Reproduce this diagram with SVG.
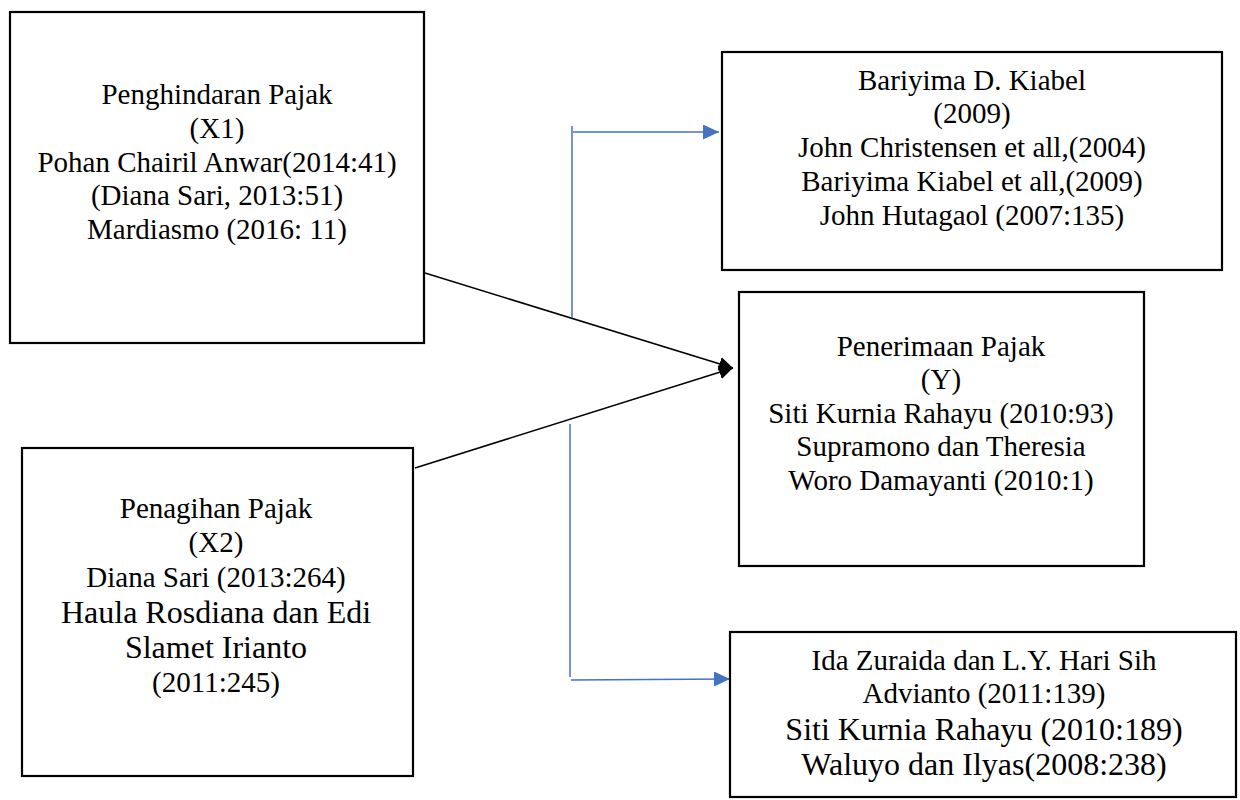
<svg xmlns="http://www.w3.org/2000/svg" width="1240" height="800" viewBox="0 0 1240 800">
<defs>
<style>
.box{fill:#fff;stroke:#000;stroke-width:2.2}
.t{font-family:"Liberation Serif","Times New Roman",serif;font-size:29px;fill:#000;text-anchor:middle}
.big{font-size:32px}
.blk{stroke:#000;stroke-width:1.6;fill:none}
.blu{stroke:#4472C4;stroke-width:1.5;fill:none}
</style>
<marker id="ab" markerUnits="userSpaceOnUse" markerWidth="16" markerHeight="16" refX="14" refY="7" orient="auto">
<path d="M0,0 L14,7 L0,14 Z" fill="#000"/>
</marker>
<marker id="au" markerUnits="userSpaceOnUse" markerWidth="18" markerHeight="18" refX="16" refY="7.5" orient="auto">
<path d="M0,0 L16,7.5 L0,15 Z" fill="#4472C4"/>
</marker>
</defs>
<rect width="1240" height="800" fill="#fff"/>
<g id="connectors">
<line class="blk" x1="425" y1="273" x2="733" y2="368" marker-end="url(#ab)"/>
<line class="blk" x1="415" y1="468" x2="733" y2="368" marker-end="url(#ab)"/>
<line class="blu" x1="572" y1="126" x2="572" y2="318"/>
<line class="blu" x1="573" y1="132" x2="719" y2="132" marker-end="url(#au)"/>
<line class="blu" x1="570" y1="424" x2="570" y2="677"/>
<line class="blu" x1="571" y1="680" x2="730" y2="679" marker-end="url(#au)"/>
</g>
<g id="x1">
<rect class="box" x="10" y="12" width="414" height="331"/>
<text class="t" x="217" y="104">Penghindaran Pajak</text>
<text class="t" x="217" y="138">(X1)</text>
<text class="t" x="217" y="172">Pohan Chairil Anwar(2014:41)</text>
<text class="t" x="217" y="205">(Diana Sari, 2013:51)</text>
<text class="t" x="217" y="239">Mardiasmo (2016: 11)</text>
</g>
<g id="x2">
<rect class="box" x="22" y="448" width="391" height="328"/>
<text class="t" x="216" y="518">Penagihan Pajak</text>
<text class="t" x="216" y="552">(X2)</text>
<text class="t" x="216" y="587">Diana Sari (2013:264)</text>
<text class="t big" x="216" y="623">Haula Rosdiana dan Edi</text>
<text class="t big" x="216" y="658">Slamet Irianto</text>
<text class="t" x="216" y="692">(2011:245)</text>
</g>
<g id="top">
<rect class="box" x="722" y="52" width="500" height="218"/>
<text class="t" x="972" y="90">Bariyima D. Kiabel</text>
<text class="t" x="972" y="123">(2009)</text>
<text class="t" x="972" y="157">John Christensen et all,(2004)</text>
<text class="t" x="972" y="191">Bariyima Kiabel et all,(2009)</text>
<text class="t" x="972" y="225">John Hutagaol (2007:135)</text>
</g>
<g id="y">
<rect class="box" x="739" y="292" width="405" height="274"/>
<text class="t" x="941" y="356">Penerimaan Pajak</text>
<text class="t" x="941" y="389">(Y)</text>
<text class="t" x="941" y="423">Siti Kurnia Rahayu (2010:93)</text>
<text class="t" x="941" y="456">Supramono dan Theresia</text>
<text class="t" x="941" y="490">Woro Damayanti (2010:1)</text>
</g>
<g id="bottom">
<rect class="box" x="730" y="632" width="506" height="165"/>
<text class="t" x="984" y="670">Ida Zuraida dan L.Y. Hari Sih</text>
<text class="t" x="984" y="703">Advianto (2011:139)</text>
<text class="t big" x="984" y="740">Siti Kurnia Rahayu (2010:189)</text>
<text class="t big" x="984" y="775">Waluyo dan Ilyas(2008:238)</text>
</g>
</svg>
